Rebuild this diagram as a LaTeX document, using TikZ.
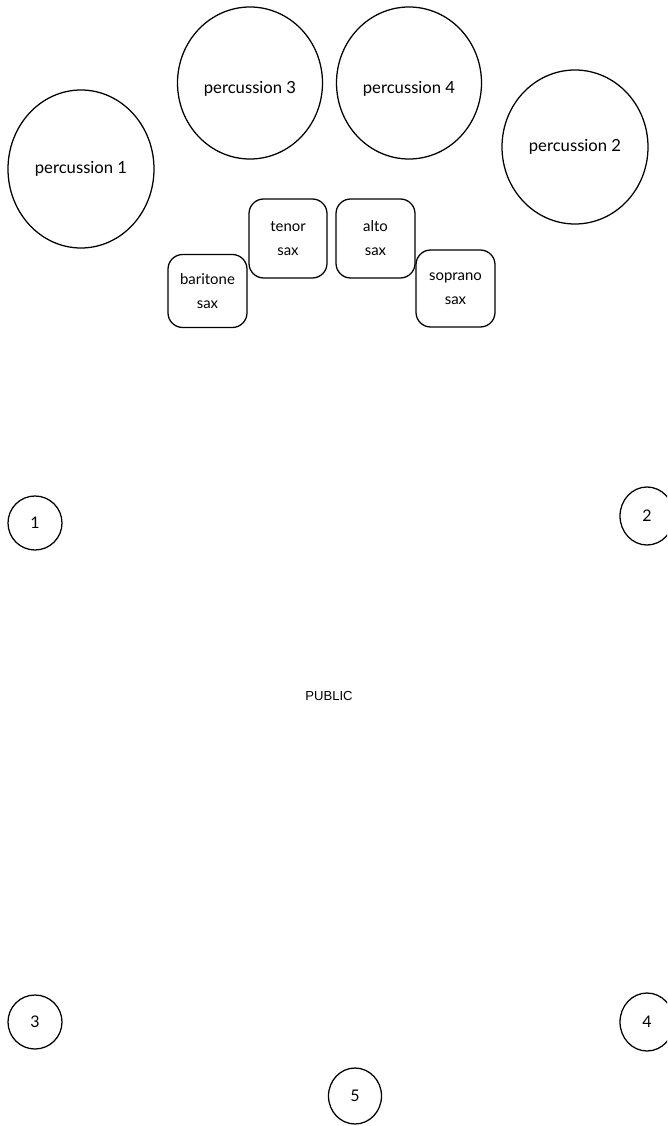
\documentclass[tikz,border=0pt]{standalone}
\usepackage{fontspec}
\setmainfont{Lato}
\newfontfamily\pubfont{Liberation Sans}
\usetikzlibrary{shapes.geometric}
\begin{document}
\begin{tikzpicture}[x=0.75pt,y=-0.75pt,
  perc/.style={draw,ellipse,line width=0.95pt,font=\fontsize{12.5}{14}\selectfont},
  sax/.style={draw,rounded corners=11pt,line width=0.95pt,align=center,font=\fontsize{11.2}{18}\selectfont,inner sep=0pt},
  spot/.style={draw,ellipse,line width=0.95pt,font=\fontsize{12}{14}\selectfont,inner sep=0pt}]
\useasboundingbox (0,0) rectangle (667,1126);
\clip (0,0) rectangle (667,1126);
\node[perc,minimum width=146*0.75pt,minimum height=158*0.75pt] (p1) at (81,169) {percussion 1};
\node[perc,minimum width=145*0.75pt,minimum height=152*0.75pt] (p3) at (250,83) {\raisebox{-8pt}[0pt][0pt]{percussion 3}};
\node[perc,minimum width=145*0.75pt,minimum height=152*0.75pt] (p4) at (409,83) {\raisebox{-8pt}[0pt][0pt]{percussion 4}};
\node[perc,minimum width=146*0.75pt,minimum height=154*0.75pt] (p2) at (575,147) {percussion 2};
\node[sax,minimum width=79*0.75pt,minimum height=73*0.75pt] (bar) at (207.5,291) {baritone\\sax};
\node[sax,minimum width=78*0.75pt,minimum height=79*0.75pt] (ten) at (288,238.5) {tenor\\sax};
\node[sax,minimum width=79*0.75pt,minimum height=79*0.75pt] (alt) at (375.5,238.5) {alto\\sax};
\node[sax,minimum width=79*0.75pt,minimum height=77*0.75pt] (sop) at (455.5,288.5) {soprano\\sax};
\node[spot,minimum width=54*0.75pt,minimum height=54*0.75pt] (s1) at (35,523) {1};
\node[spot,minimum width=54*0.75pt,minimum height=58*0.75pt] (s2) at (647,516) {2};
\node[spot,minimum width=54*0.75pt,minimum height=54*0.75pt] (s3) at (35,1022) {3};
\node[spot,minimum width=54*0.75pt,minimum height=58*0.75pt] (s4) at (647,1022) {4};
\node[spot,minimum width=53*0.75pt,minimum height=56*0.75pt] (s5) at (355,1096) {5};
\node[font=\pubfont\fontsize{9.8}{12}\selectfont] (pub) at (329,696) {PUBLIC};
\end{tikzpicture}
\end{document}
